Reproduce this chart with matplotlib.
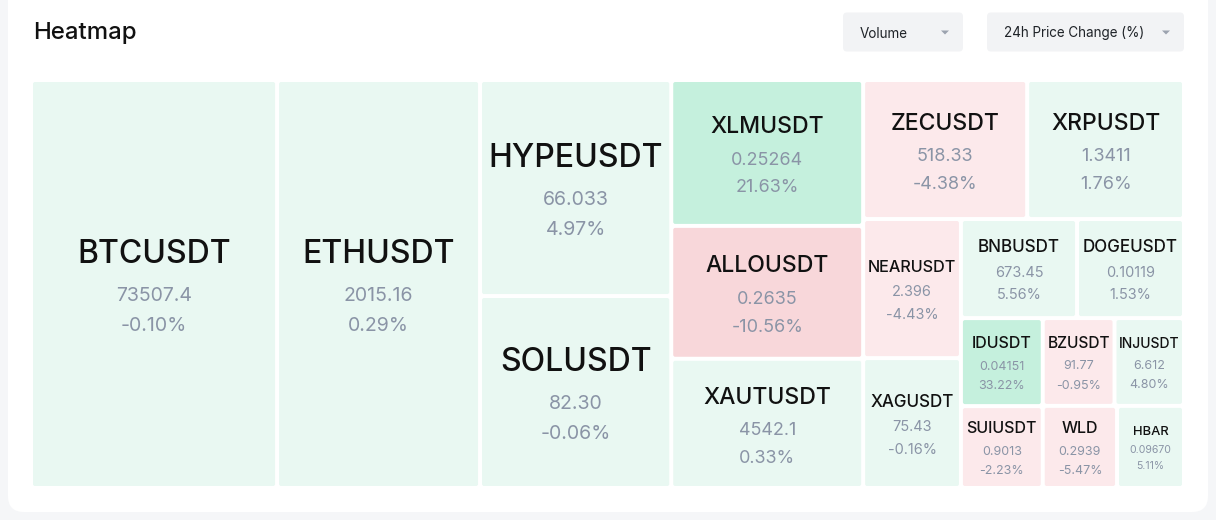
import matplotlib.pyplot as plt
from matplotlib.patches import FancyBboxPatch, Polygon

# 24h market snapshot (volume sizes estimated from the tile areas)
names = ['BTCUSDT', 'ETHUSDT', 'HYPEUSDT', 'SOLUSDT', 'XLMUSDT', 'ALLOUSDT',
         'XAUTUSDT', 'ZECUSDT', 'XRPUSDT', 'NEARUSDT', 'XAGUSDT', 'BNBUSDT',
         'DOGEUSDT', 'IDUSDT', 'SUIUSDT', 'BZUSDT', 'INJUSDT', 'WLD', 'HBAR']
prices = ['73507.4', '2015.16', '66.033', '82.30', '0.25264', '0.2635',
          '4542.1', '518.33', '1.3411', '2.396', '75.43', '673.45',
          '0.10119', '0.04151', '0.9013', '91.77', '6.612', '0.2939', '0.09670']
changes = [-0.10, 0.29, 4.97, -0.06, 21.63, -10.56, 0.33, -4.38, 1.76, -4.43,
           -0.16, 5.56, 1.53, 33.22, -2.23, -0.95, 4.80, -5.47, 5.11]
volumes = [1004, 828, 413, 367, 280, 255, 248, 228, 218, 136,
           127, 115, 106, 72, 67, 63, 61, 61, 55]

PT = 72 / 100  # px -> points at dpi 100
FONT = 'Inter'


def worst(row, side):
    s = sum(row)
    return max(side * side * max(row) / (s * s), s * s / (side * side * min(row)))


def squarify(vals, x, y, w, h):
    total = sum(vals)
    areas = [v * w * h / total for v in vals]
    rects = []
    while areas:
        side = min(w, h)
        row = [areas.pop(0)]
        while areas and worst(row + [areas[0]], side) <= worst(row, side):
            row.append(areas.pop(0))
        s = sum(row)
        if w >= h:
            cw = s / h
            yy = y
            for a in row:
                rects.append((x, yy, cw, a / cw))
                yy += a / cw
            x += cw
            w -= cw
        else:
            rh = s / w
            xx = x
            for a in row:
                rects.append((xx, y, a / rh, rh))
                xx += a / rh
            y += rh
            h -= rh
    return rects


def tile_color(c):
    if c >= 10:
        return '#c5f0dd'
    if c > -0.5:
        return '#e9f8f2'
    if c > -10:
        return '#fce9eb'
    return '#f8d7da'


def tier(area):
    # (name px, value px)
    if area >= 33000:
        return 32, 19.5
    if area >= 19000:
        return 23, 18
    if area >= 8000:
        return 17, 14.5
    if area >= 5300:
        return 16, 12.5
    return 13, 10.5


fig = plt.figure(figsize=(12.16, 5.2), dpi=100, facecolor='#f5f6f8')
ax = fig.add_axes([0, 0, 1, 1])
ax.set_xlim(0, 1216)
ax.set_ylim(520, 0)
ax.axis('off')
renderer = fig.canvas.get_renderer()

# card
ax.add_patch(FancyBboxPatch((8, -30), 1200, 542, boxstyle='round,pad=0,rounding_size=16',
                            fc='white', ec='none'))
ax.text(33, 38.5, 'Heatmap', fontsize=24 * PT, family=FONT, weight=500,
        color='#111111', va='baseline')

# dropdowns
for bx, bw, label in [(843, 120, 'Volume'), (987, 197, '24h Price Change (%)')]:
    ax.add_patch(FancyBboxPatch((bx, 12.5), bw, 39, boxstyle='round,pad=0,rounding_size=4',
                                fc='#f2f3f5', ec='none'))
    ax.text(bx + 17, 37.5, label, fontsize=13.5 * PT, family=FONT, color='#1f2328', va='baseline')
    cx = bx + bw - 18
    ax.add_patch(Polygon([(cx - 4, 30.5), (cx + 4, 30.5), (cx, 34.5)], closed=True,
                         fc='#9ca3af', ec='none'))


def fit(s, px, wmax, weight):
    t = ax.text(0, 0, s, fontsize=px * PT, family=FONT, weight=weight)
    wpx = t.get_window_extent(renderer).width
    t.remove()
    return px * min(1.0, wmax / wpx)


gap = 4
rects = squarify(volumes, 33, 82, 1153, 408)
for (x, y, w, h), name, price, ch in zip(rects, names, prices, changes):
    w -= gap
    h -= gap
    ax.add_patch(FancyBboxPatch((x, y), w, h, boxstyle='round,pad=0,rounding_size=2',
                                fc=tile_color(ch), ec='none'))
    ne, ve = tier(w * h)
    ne = fit(name, ne, w - 5, 500)
    ve = min(fit(price, ve, w - 8, 'normal'), fit(f'{ch:.2f}%', ve, w - 8, 'normal'))
    d1 = 0.82 * ne + 0.8 * ve
    d2 = 1.55 * ve
    cx = x + w / 2
    cy = y + h / 2
    y_name = cy - (d1 + d2) / 2 + 0.15 * ne - 1
    y_val = y_name + d1
    y_pct = y_val + d2
    ax.text(cx, y_name + 0.36 * ne, name, fontsize=ne * PT, family=FONT, weight=500,
            color='#111111', ha='center', va='baseline')
    ax.text(cx, y_val + 0.36 * ve, price, fontsize=ve * PT, family=FONT,
            color='#8a94a6', ha='center', va='baseline')
    ax.text(cx, y_pct + 0.36 * ve, f'{ch:.2f}%', fontsize=ve * PT, family=FONT,
            color='#8a94a6', ha='center', va='baseline')

fig.savefig('out.png', dpi=100, facecolor=fig.get_facecolor())
